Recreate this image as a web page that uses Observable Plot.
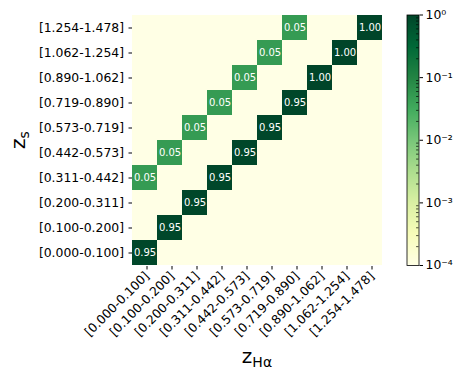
<!DOCTYPE html>
<html>
<head>
<meta charset="utf-8">
<script src="https://cdn.jsdelivr.net/npm/d3@7"></script>
<script src="https://cdn.jsdelivr.net/npm/@observablehq/plot@0.6"></script>
<style>
  html, body { margin: 0; padding: 0; background: #ffffff; }
  #chart { position: relative; width: 463px; height: 380px; overflow: hidden; }
  #chart svg { position: absolute; left: 0; top: 0; }
</style>
</head>
<body>
<div id="chart"></div>
<script>
// ---- data ----
const zBins = ["[0.000-0.100]","[0.100-0.200]","[0.200-0.311]","[0.311-0.442]","[0.442-0.573]",
               "[0.573-0.719]","[0.719-0.890]","[0.890-1.062]","[1.062-1.254]","[1.254-1.478]"];

// fraction[i][j]: column i = z_Hα bin, row j = z_s bin
const fraction = [
  [0.95, 0, 0, 0.05, 0, 0, 0, 0, 0, 0],
  [0, 0.95, 0, 0, 0.05, 0, 0, 0, 0, 0],
  [0, 0, 0.95, 0, 0, 0.05, 0, 0, 0, 0],
  [0, 0, 0, 0.95, 0, 0, 0.05, 0, 0, 0],
  [0, 0, 0, 0, 0.95, 0, 0, 0.05, 0, 0],
  [0, 0, 0, 0, 0, 0.95, 0, 0, 0.05, 0],
  [0, 0, 0, 0, 0, 0, 0.95, 0, 0, 0.05],
  [0, 0, 0, 0, 0, 0, 0, 1.00, 0, 0],
  [0, 0, 0, 0, 0, 0, 0, 0, 1.00, 0],
  [0, 0, 0, 0, 0, 0, 0, 0, 0, 1.00]
];

const colorDomain = [1e-4, 1];
const colorTicks = [1e-4, 1e-3, 1e-2, 1e-1, 1];
const colorTickLabels = ["10⁻⁴", "10⁻³", "10⁻²", "10⁻¹", "10⁰"];

// ---- styles ----
const ylgn = ["#ffffe5","#f7fcb9","#d9f0a3","#addd8e","#78c679","#41ab5d","#238443","#006837","#004529"];
const font = "DejaVu Sans, sans-serif";

const colorScale = {
  type: "log",
  domain: colorDomain,
  interpolate: d3.piecewise(d3.interpolateRgb, ylgn),
  clamp: true
};

const cells = fraction.flatMap((col, i) => col.map((v, j) => ({x: zBins[i], y: zBins[j], v})));
const nonzero = cells.filter(d => d.v > 0);

const main = Plot.plot({
  width: 463, height: 380,
  marginLeft: 132, marginRight: 81, marginTop: 14.5, marginBottom: 115,
  style: {fontFamily: font, fontSize: "12px", background: "transparent", color: "black"},
  x: {domain: zBins, padding: 0},
  y: {domain: zBins.slice().reverse(), padding: 0},
  color: colorScale,
  marks: [
    Plot.cell(cells, {x: "x", y: "y", fill: d => Math.max(d.v, colorDomain[0])}),
    Plot.text(nonzero, {x: "x", y: "y", text: d => d.v.toFixed(2), fill: "white", fontSize: 10}),
    Plot.axisX({tickSize: 3.5, tickPadding: 4, tickRotate: -45, label: null, fontSize: 12.4, strokeWidth: 1, dx: 2, dy: 1}),
    Plot.axisY({tickSize: 3.5, tickPadding: 5, label: null, fontSize: 12.4, strokeWidth: 1})
  ]
});

// colorbar
const logScale = d3.scaleLog().domain(colorDomain);
const nStops = 250;
const cbStops = d3.range(nStops).map(i => {
  const lo = logScale.invert(i / nStops), hi = logScale.invert((i + 1) / nStops);
  return {lo, hi, mid: Math.sqrt(lo * hi)};
});
const minorTicks = logScale.ticks().filter(t => !colorTicks.some(c => Math.abs(c - t) / c < 1e-9));
const tickLabel = new Map(colorTicks.map((t, i) => [t, colorTickLabels[i]]));

const cbar = Plot.plot({
  width: 463, height: 380,
  marginLeft: 406.5, marginRight: 44.5, marginTop: 14.5, marginBottom: 115,
  style: {fontFamily: font, fontSize: "12px", background: "transparent", color: "black"},
  x: {domain: [0, 1], axis: null},
  y: {type: "log", domain: colorDomain},
  color: colorScale,
  marks: [
    Plot.rect(cbStops, {x1: 0, x2: 1, y1: "lo", y2: "hi", fill: "mid", shapeRendering: "crispEdges"}),
    Plot.ruleY(minorTicks, {x1: 0.8, x2: 1, stroke: "black", strokeWidth: 0.7}),
    Plot.frame({stroke: "black", strokeWidth: 0.8}),
    Plot.axisY(colorTicks, {anchor: "right", tickSize: 3.5, tickPadding: 3, label: null,
      tickFormat: d => tickLabel.get(d), fontSize: 12.4, strokeWidth: 1})
  ]
});

const container = document.getElementById("chart");
container.appendChild(main);
container.appendChild(cbar);

// axis titles
const svg = d3.select(main);
const xt = svg.append("text")
  .attr("x", 257).attr("y", 363)
  .attr("text-anchor", "middle")
  .attr("font-family", font).attr("font-size", 20).attr("fill", "black");
xt.append("tspan").text("z");
xt.append("tspan").attr("font-size", 14).attr("dy", 3.5).text("Hα");

const yt = svg.append("text")
  .attr("transform", "translate(25,140) rotate(-90)")
  .attr("text-anchor", "middle")
  .attr("font-family", font).attr("font-size", 20).attr("fill", "black");
yt.append("tspan").text("z");
yt.append("tspan").attr("font-size", 14).attr("dy", 3.5).text("s");
</script>
</body>
</html>
